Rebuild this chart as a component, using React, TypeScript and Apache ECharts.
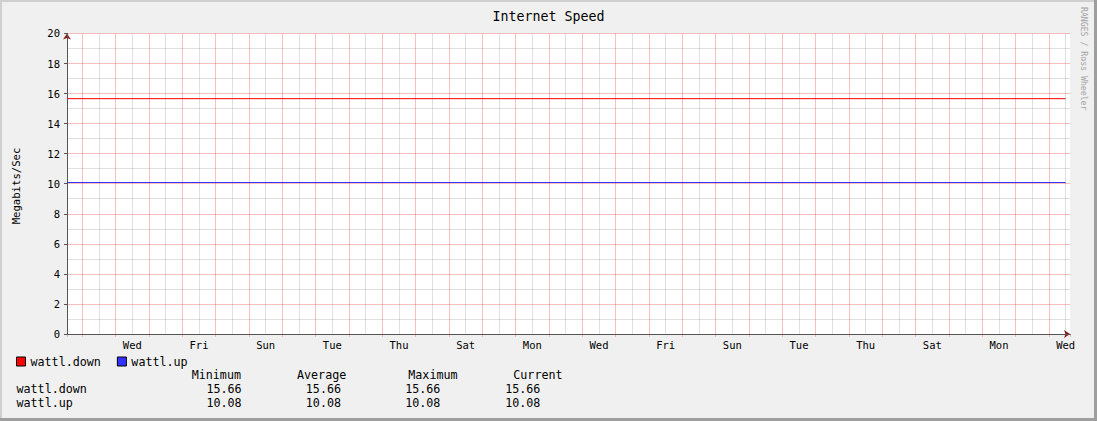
import React, { useEffect, useRef } from 'react';
import * as echarts from 'echarts';

// days on the x scale: a pink grid line falls on every whole day
const sampleDays = [0.541, 30.5];
const downValues = [15.66, 15.66];
const upValues = [10.08, 10.08];

// day labels sit half a day after the pink lines, every two days
const dayLabels = ['Wed', 'Fri', 'Sun', 'Tue', 'Thu', 'Sat', 'Mon', 'Wed', 'Fri', 'Sun', 'Tue', 'Thu', 'Sat', 'Mon', 'Wed'];

const statHeaders = ['Minimum', 'Average', 'Maximum', 'Current'];
const downStats = [15.66, 15.66, 15.66, 15.66];
const upStats = [10.08, 10.08, 10.08, 10.08];

const DAY_MIN = 0.541;
const DAY_MAX = 30.631;

const MONO = '"DejaVu Sans Mono", "Liberation Mono", monospace';
const RED = '#ff0000';
const BLUE = '#3333ff';
const PINK = 'rgba(235, 0, 0, 0.25)';
const GRAY = 'rgba(0, 0, 0, 0.12)';
const AXIS = '#555555';
const ARROW = '#8b1c1c';

const headerX = [191.7, 297, 408.3, 513.3];
const valueX = [241.6, 341, 440.4, 540.4];

const monoText = (text: string, x: number, y: number, align = 'left', size = 11.7, fill = '#000') => ({
  type: 'text',
  x,
  y,
  silent: true,
  style: { text, fill, fontSize: size, fontFamily: MONO, textAlign: align, textVerticalAlign: 'middle' },
});

const App: React.FC = () => {
  const chartRef = useRef<HTMLDivElement>(null);

  useEffect(() => {
    if (!chartRef.current) return;
    const chart = echarts.init(chartRef.current, null, { renderer: 'svg' });

    const statRows = [
      { name: 'wattl.down', values: downStats, y: 389.3 },
      { name: 'wattl.up', values: upStats, y: 403.3 },
    ];

    const graphics: any[] = [
      { type: 'rect', shape: { x: 0, y: 0, width: 1097, height: 2 }, style: { fill: '#cfcfcf' }, silent: true },
      { type: 'rect', shape: { x: 0, y: 0, width: 2, height: 421 }, style: { fill: '#cfcfcf' }, silent: true },
      { type: 'rect', shape: { x: 0, y: 418, width: 1097, height: 3 }, style: { fill: '#9e9e9e' }, silent: true },
      { type: 'rect', shape: { x: 1094, y: 0, width: 3, height: 421 }, style: { fill: '#9e9e9e' }, silent: true },
      { ...monoText('Megabits/Sec', 15.5, 186, 'center', 10.6), rotation: Math.PI / 2 },
      { ...monoText('RANGES / Ross Wheeler', 1083.5, 58.7, 'center', 8.2, '#a4a4a4'), rotation: -Math.PI / 2 },
    ];
    statHeaders.forEach((h, i) => graphics.push(monoText(h, headerX[i], 375)));
    statRows.forEach((row) => {
      graphics.push(monoText(row.name, 16.5, row.y));
      row.values.forEach((v, i) => graphics.push(monoText(v.toFixed(2), valueX[i], row.y, 'right')));
    });

    chart.setOption({
      animation: false,
      backgroundColor: '#f0f0f0',
      title: {
        text: 'Internet Speed',
        left: 'center',
        top: 9,
        padding: 0,
        textStyle: { fontFamily: MONO, fontSize: 13.3, fontWeight: 'normal', color: '#000', lineHeight: 14 },
      },
      legend: {
        left: 16,
        top: 354.5,
        padding: 0,
        icon: 'rect',
        itemWidth: 9,
        itemHeight: 9,
        itemGap: 16,
        selectedMode: false,
        itemStyle: { borderColor: '#000', borderWidth: 1 },
        textStyle: { fontFamily: MONO, fontSize: 11.7, color: '#000', lineHeight: 14 },
        data: ['wattl.down', 'wattl.up'],
      },
      grid: {
        left: 67,
        top: 33.45,
        width: 1003,
        height: 300.5,
        show: true,
        backgroundColor: '#ffffff',
        borderWidth: 0,
        containLabel: false,
      },
      xAxis: [
        {
          // daily grid: splitNumber 30 gives a nice interval of one day, ticks on whole days
          type: 'value',
          min: DAY_MIN,
          max: DAY_MAX,
          splitNumber: 30,
          z: 3,
          axisLine: { show: true, lineStyle: { color: AXIS, width: 1 } },
          axisTick: { show: true, length: 3, lineStyle: { color: PINK } },
          axisLabel: { show: false },
          splitLine: { show: true, showMinLine: false, showMaxLine: false, lineStyle: { color: PINK, width: 1 } },
          minorTick: { show: false, splitNumber: 2 },
          minorSplitLine: { show: true, lineStyle: { color: GRAY, width: 1 } },
        },
        {
          // label axis, shifted half a day, ticks every two days
          type: 'value',
          min: DAY_MIN - 0.5,
          max: DAY_MAX - 0.5,
          splitNumber: 15,
          z: 2,
          position: 'bottom',
          axisLine: { show: true, symbol: ['none', 'arrow'], symbolSize: [6, 6], lineStyle: { color: ARROW, width: 1 } },
          axisTick: { show: false },
          splitLine: { show: false },
          axisLabel: {
            margin: 6,
            fontFamily: MONO,
            fontSize: 10.5,
            color: '#000',
            formatter: (v: number) => {
              const k = v / 2;
              if (Math.abs(k - Math.round(k)) > 1e-6) return '';
              return dayLabels[Math.round(k) - 1] ?? '';
            },
          },
        },
      ],
      yAxis: [
        {
          type: 'value',
          min: 0,
          max: 20,
          interval: 2,
          z: 3,
          axisLine: { show: true, lineStyle: { color: AXIS, width: 1 } },
          axisTick: { show: true, length: 3, lineStyle: { color: AXIS } },
          axisLabel: { margin: 7, fontFamily: MONO, fontSize: 10.5, color: '#000' },
          splitLine: { show: true, lineStyle: { color: PINK, width: 1 } },
          minorTick: { show: false, splitNumber: 2 },
          minorSplitLine: { show: true, lineStyle: { color: GRAY, width: 1 } },
        },
        {
          type: 'value',
          min: 0,
          max: 20,
          z: 2,
          position: 'left',
          axisLine: { show: true, symbol: ['none', 'arrow'], symbolSize: [6, 6], lineStyle: { color: ARROW, width: 1 } },
          axisTick: { show: false },
          axisLabel: { show: false },
          splitLine: { show: false },
        },
      ],
      series: [
        {
          name: 'wattl.down',
          type: 'line',
          xAxisIndex: 0,
          yAxisIndex: 0,
          z: 10,
          showSymbol: false,
          color: RED,
          lineStyle: { color: RED, width: 1 },
          data: sampleDays.map((d, i) => [d, downValues[i]]),
        },
        {
          name: 'wattl.up',
          type: 'line',
          xAxisIndex: 0,
          yAxisIndex: 0,
          z: 10,
          showSymbol: false,
          color: BLUE,
          lineStyle: { color: BLUE, width: 1 },
          data: sampleDays.map((d, i) => [d, upValues[i]]),
        },
      ],
      graphic: graphics,
    });

    return () => {
      chart.dispose();
    };
  }, []);

  return (
    <div
      ref={chartRef}
      style={{ position: 'absolute', left: 0, top: 0, width: '1097px', height: '421px' }}
    />
  );
};

export default App;
